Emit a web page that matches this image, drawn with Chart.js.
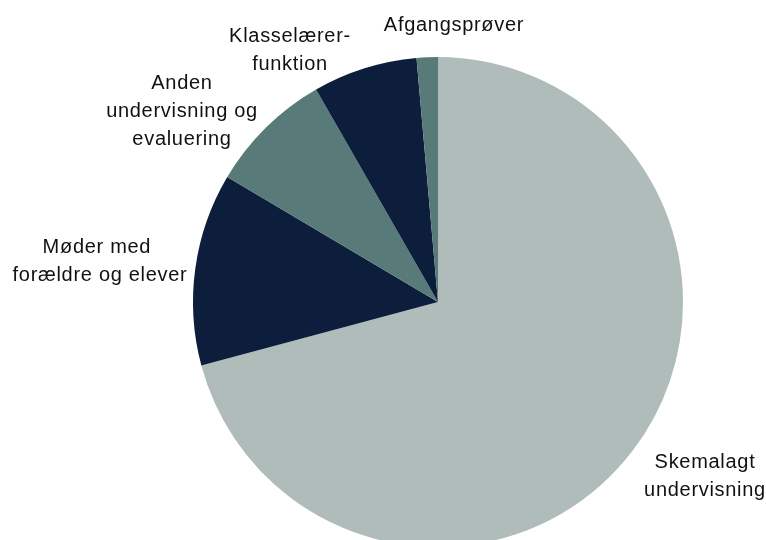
<!DOCTYPE html>
<html>
<head>
<meta charset="utf-8">
<script src="https://cdn.jsdelivr.net/npm/chart.js@4/dist/chart.umd.min.js"></script>
<style>
  html, body { margin: 0; padding: 0; background: #fff; overflow: hidden; }
  #wrap { width: 766px; height: 560px; position: relative; }
</style>
</head>
<body>
<div id="wrap"><canvas id="graficoTid"></canvas></div>
<script>
// ======== DADOS =========
const kategorier = ['Skemalagt undervisning', 'Møder med forældre og elever', 'Anden undervisning og evaluering', 'Klasselærerfunktion', 'Afgangsprøver'];
const andele = [70.9, 12.7, 8.2, 6.9, 1.4];
const farver = ['#b0bcb9', '#0d1e3d', '#587a78', '#0d1e3d', '#587a78'];
// label text, split on lines as in the original
const etiketter = [
  ['Skemalagt', 'undervisning'],
  ['Møder med ', 'forældre og elever'],
  ['Anden', 'undervisning og', 'evaluering'],
  ['Klasselærer-', 'funktion'],
  ['Afgangsprøver']
];
// label anchor: centre x, baseline of first line
const etiketPos = [[705, 468], [100, 253], [182, 89], [290, 42], [454, 31]];

// ======== RÓTULOS =========
const rotulosPlugin = {
  id: 'rotulos',
  afterDraw(chart) {
    const c = chart.ctx;
    c.save();
    c.font = '20px "Liberation Sans", Arial, sans-serif';
    c.letterSpacing = '0.7px';
    c.fillStyle = '#111';
    c.textAlign = 'center';
    c.textBaseline = 'alphabetic';
    etiketter.forEach((linjer, i) => {
      const [x, y] = etiketPos[i];
      linjer.forEach((t, j) => c.fillText(t, x, y + j * 27.8));
    });
    c.restore();
  }
};

// ======== GRÁFICO =========
const ctx = document.getElementById('graficoTid');
new Chart(ctx, {
  type: 'pie',
  data: {
    labels: kategorier,
    datasets: [{
      data: andele,
      backgroundColor: farver,
      borderWidth: 0
    }]
  },
  options: {
    responsive: true,
    maintainAspectRatio: false,
    animation: false,
    layout: { padding: { top: 57, bottom: 13, left: 193, right: 83 } },
    plugins: {
      legend: { display: false },
      tooltip: { enabled: false }
    }
  },
  plugins: [rotulosPlugin]
});
</script>
</body>
</html>
